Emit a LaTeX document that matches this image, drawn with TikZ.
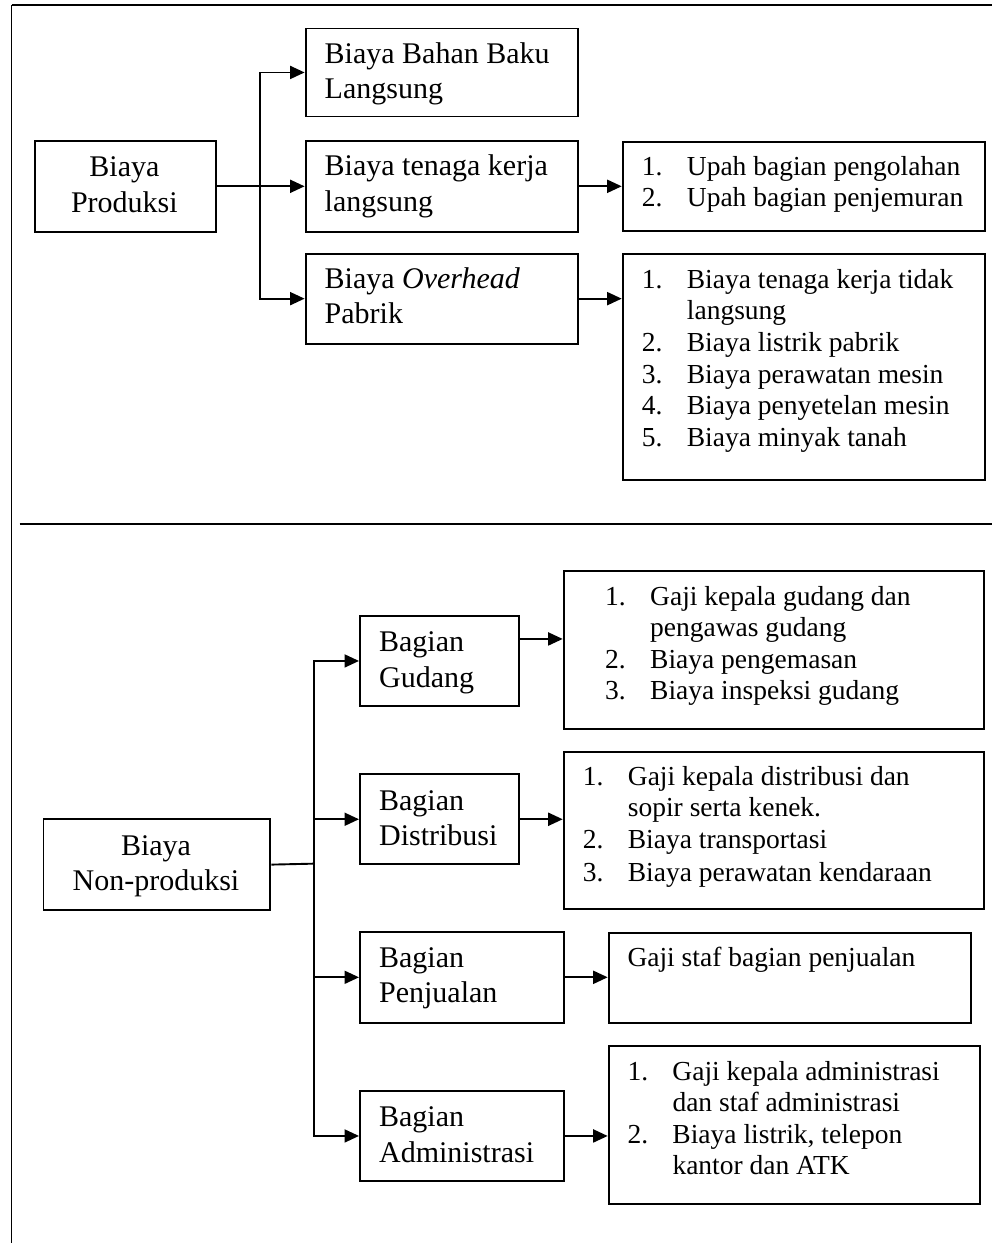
\documentclass[tikz,border=0pt]{standalone}
\usepackage{fontspec}
\setmainfont{Liberation Serif}
\usetikzlibrary{arrows.meta}
% one column of text lines, left or centred
\newcommand{\boxlines}[1]{\begin{tabular}[t]{@{}l@{}}#1\end{tabular}}
\newcommand{\boxlinesc}[1]{\begin{tabular}[t]{@{}c@{}}#1\end{tabular}}
% numbered list with hanging indent
\newcommand{\itemrows}[1]{\begin{tabular}[t]{@{}p{45pt}@{}l@{}}#1\end{tabular}}
\begin{document}
\begin{tikzpicture}[x=1pt,y=-1pt,
  frameline/.style={line width=1.9pt},
  box/.style={draw, line width=1.9pt, rectangle, inner sep=0pt, anchor=north west},
  conn/.style={line width=1.9pt},
  arr/.style={line width=1.9pt, -{Triangle[length=14.5pt,width=13pt]}},
  head/.style={inner sep=0pt, anchor=base west, font=\fontsize{30}{35.5}\selectfont},
  headc/.style={inner sep=0pt, anchor=base, font=\fontsize{30}{35.5}\selectfont},
  itemtext/.style={inner sep=0pt, anchor=base west, font=\fontsize{27.5}{31.6}\selectfont}]

\useasboundingbox (0,0) rectangle (992,1243);

% outer frame and divider
\draw[frameline, line width=2.6pt] (11.5,5) -- (992,5);
\draw[frameline] (11.5,5) -- (11.5,1243);
\draw[frameline] (19.5,524) -- (992,524);

% ---------- Biaya Produksi ----------
\node[box, minimum width=181.4pt, minimum height=90.7pt] (prod) at (33.7,140) {};
\node[box, minimum width=272.1pt, minimum height=88pt]   (b1) at (304.6,27.5) {};
\node[box, minimum width=272.1pt, minimum height=90.7pt] (b2) at (304.6,140) {};
\node[box, minimum width=272.1pt, minimum height=90pt]   (b3) at (304.6,252.7) {};
\node[box, minimum width=362.3pt, minimum height=89.3pt] (la) at (621.7,140.7) {};
\node[box, minimum width=362.3pt, minimum height=226pt]  (lb) at (621.7,253.3) {};

\node[headc] (tprod) at (124.4,176.7) {\boxlinesc{Biaya\\Produksi}};
\node[head] (tb1) at (324.5,63.3) {\boxlines{Biaya Bahan Baku\\Langsung}};
\node[head] (tb2) at (324.5,175.7) {\boxlines{Biaya tenaga kerja\\langsung}};
\node[head] (tb3) at (324.5,288.3) {\boxlines{Biaya \textit{Overhead}\\Pabrik}};

\node[itemtext] (tla) at (641.7,175) {\itemrows{1. & Upah bagian pengolahan\\
  2. & Upah bagian penjemuran}};
\node[itemtext] (tlb) at (641.7,288.3) {\itemrows{1. & Biaya tenaga kerja tidak\\
  & langsung\\
  2. & Biaya listrik pabrik\\
  3. & Biaya perawatan mesin\\
  4. & Biaya penyetelan mesin\\
  5. & Biaya minyak tanah}};

\coordinate (j1) at (260.2,185.35);
\draw[arr] (prod.east) -- (b2.west);
\draw[arr] (j1) |- (b1.west);
\draw[arr] (j1) |- (b3.west);
\draw[arr] (b2.east) -- (b2.east -| la.west);
\draw[arr] (b3.east) -- (b3.east -| lb.west);

% ---------- Biaya Non-produksi ----------
\node[box, minimum width=226.9pt, minimum height=90.7pt] (np) at (42.5,818.3) {};
\node[box, minimum width=158.8pt, minimum height=90pt]   (gud) at (359,615) {};
\node[box, minimum width=158.8pt, minimum height=90pt]   (dis) at (359,773.3) {};
\node[box, minimum width=204.3pt, minimum height=90.7pt] (pen) at (359,931) {};
\node[box, minimum width=204.3pt, minimum height=90pt]   (adm) at (359,1090) {};
\node[box, minimum width=420.6pt, minimum height=157.7pt] (lg) at (562.7,570) {};
\node[box, minimum width=420.6pt, minimum height=157.6pt] (ld) at (562.7,750.7) {};
\node[box, minimum width=362.3pt, minimum height=90pt]    (lp) at (607.7,931.7) {};
\node[box, minimum width=371.6pt, minimum height=157.7pt] (lad) at (607.7,1045) {};

\node[headc] (tnp) at (156,855) {\boxlinesc{Biaya\\Non-produksi}};
\node[head] (tgud) at (378.9,651.7) {\boxlines{Bagian\\Gudang}};
\node[head] (tdis) at (378.9,810) {\boxlines{Bagian\\Distribusi}};
\node[head] (tpen) at (378.9,967.3) {\boxlines{Bagian\\Penjualan}};
\node[head] (tadm) at (378.9,1126.7) {\boxlines{Bagian\\Administrasi}};

\node[itemtext] (tlg) at (605,605) {\itemrows{1. & Gaji kepala gudang dan\\
  & pengawas gudang\\
  2. & Biaya pengemasan\\
  3. & Biaya inspeksi gudang}};
\node[itemtext] (tld) at (582.7,785) {\itemrows{1. & Gaji kepala distribusi dan\\
  & sopir serta kenek.\\
  2. & Biaya transportasi\\[2pt]
  3. & Biaya perawatan kendaraan}};
\node[itemtext] (tlp) at (627.3,966.7) {Gaji staf bagian penjualan};
\node[itemtext] (tlad) at (627.3,1080) {\itemrows{1. & Gaji kepala administrasi\\
  & dan staf administrasi\\
  2. & Biaya listrik, telepon\\
  & kantor dan ATK}};

\coordinate (j2) at (313.8,863.65);
\draw[conn] (np.east) -- (j2);
\draw[arr] (j2) |- (gud.west);
\draw[arr] (j2) |- (dis.west);
\draw[arr] (j2) |- (pen.west);
\draw[arr] (j2) |- (adm.west);

\coordinate (g1) at ([yshift=22pt]gud.east);
\draw[arr] (g1) -- (g1 -| lg.west);
\draw[arr] (dis.east) -- (dis.east -| ld.west);
\draw[arr] (pen.east) -- (pen.east -| lp.west);
\draw[arr] (adm.east) -- (adm.east -| lad.west);
\end{tikzpicture}
\end{document}
